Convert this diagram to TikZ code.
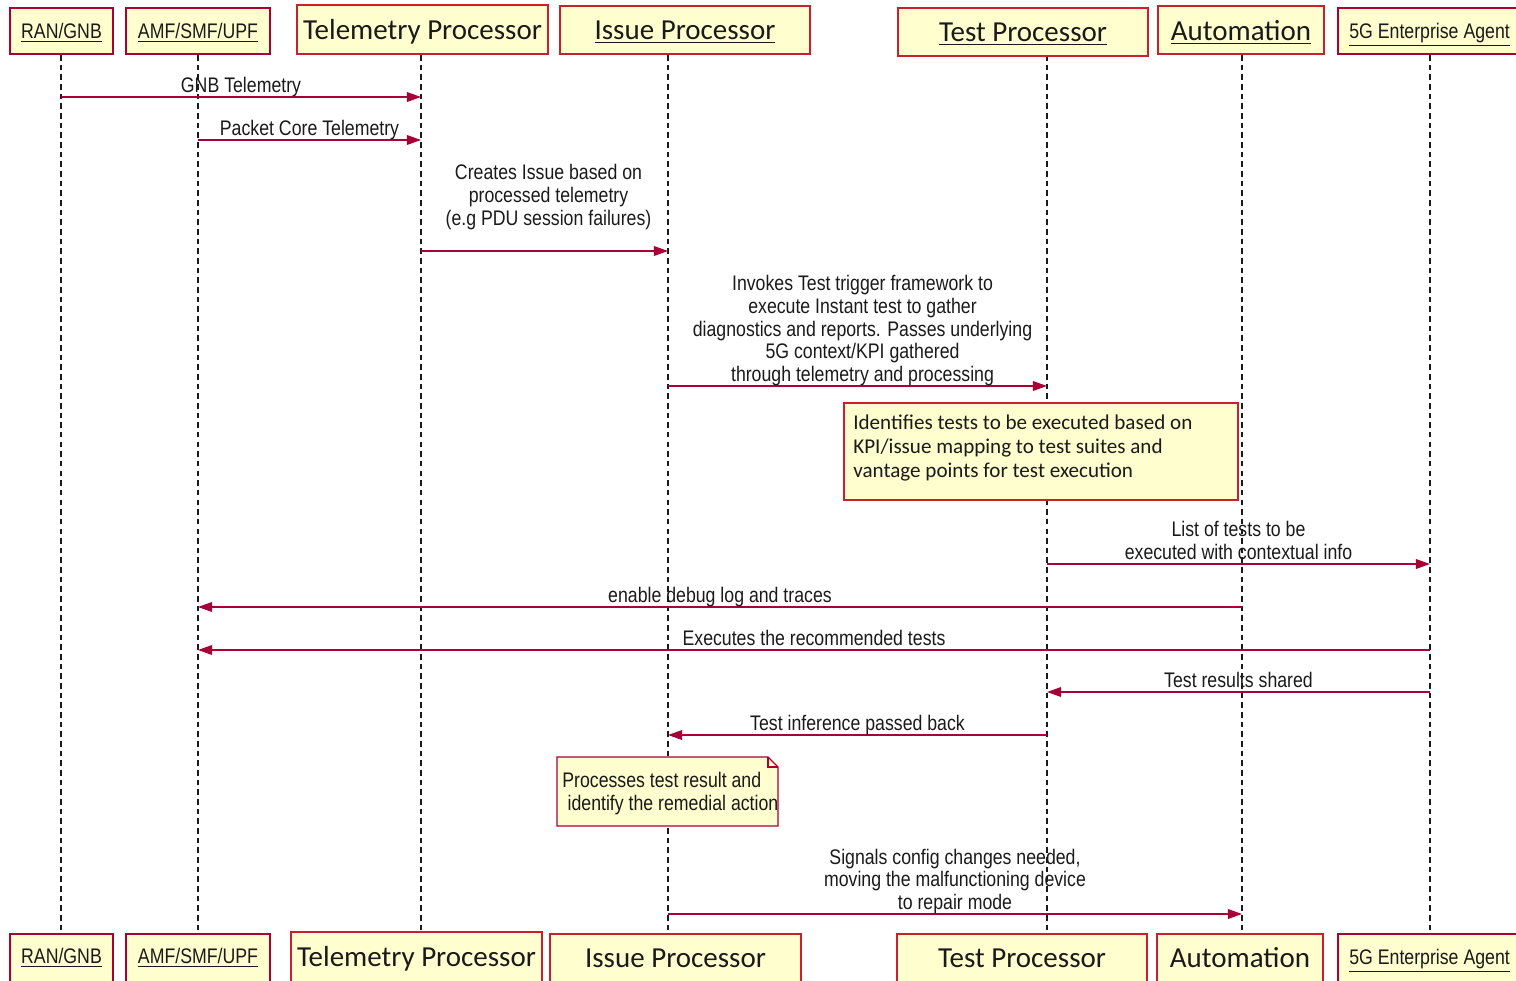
\documentclass[tikz,border=0pt]{standalone}
\usepackage{fontspec}
\usetikzlibrary{arrows.meta}

\newfontfamily\narrowsans{Liberation Sans}[FakeStretch=0.84]
\newfontfamily\calsans{Carlito}

\definecolor{umlred}{HTML}{A80036}
\definecolor{boxred}{HTML}{C8202F}
\definecolor{umlfill}{HTML}{FEFECE}
\definecolor{inkgray}{HTML}{1A1A1A}

\newcommand\lowered[1]{\raisebox{-1.2pt}[\height][\depth]{#1}}

\tikzset{
  box/.style 2 args={draw=umlred, fill=umlfill, line width=0.7pt, inner sep=0pt,
    minimum width=#1*0.02cm, minimum height=#2*0.02cm,
    font=\narrowsans\fontsize{12}{14}\selectfont, text=inkgray},
  bigbox/.style 2 args={box={#1}{#2}, draw=boxred, line width=1pt,
    font=\calsans\fontsize{16.5}{18}\selectfont},
  life/.style={draw=inkgray, line width=0.6pt, dash pattern=on 3.2pt off 2.3pt},
  msg/.style={draw=umlred, line width=0.8pt, -{Triangle[length=8pt,width=5.5pt]}},
  lbl/.style={font=\narrowsans\fontsize{12}{13}\selectfont, text=inkgray, align=center, inner sep=0pt, text depth=2.5pt},
  notetxt/.style={font=\calsans\fontsize{12}{13.4}\selectfont, text=inkgray, align=left, inner sep=0pt}
}

\begin{document}
\begin{tikzpicture}[x=0.02cm, y=-0.02cm]
    \useasboundingbox (0,0) rectangle (1516,981);
    \clip (0,0) rectangle (1516,981);

    % Lifelines
    \foreach \name/\x in {ran/61, amf/198, tel/421, iss/668, tst/1047, aut/1242, agt/1430} {
        \coordinate (\name) at (\x,55);
        \coordinate (\name-end) at (\x,933);
        \draw[life] (\name) -- (\name-end);
    }

    % Participants (top)
    \node[box={103}{46}] (ranT) at (61.5,31) {\lowered{\underline{RAN/GNB}}};
    \node[box={144}{46}] (amfT) at (198,31) {\lowered{\underline{AMF/SMF/UPF}}};
    \node[bigbox={251}{49}] (telT) at (422.5,29.5) {\lowered{Telemetry Processor}};
    \node[bigbox={250}{48}] (issT) at (685,30) {\lowered{\underline{Issue Processor}}};
    \node[bigbox={250}{48}] (tstT) at (1023,32) {\lowered{\underline{Test Processor}}};
    \node[bigbox={166}{48}] (autT) at (1241,30) {\lowered{\underline{Automation}}};
    \node[box={184}{46}] (agtT) at (1430,31) {};
    \node[lbl, anchor=west, text depth=0pt] (agtTtext) at (1349,31) {\underline{5G Enterprise Agent}};

    % Participants (bottom)
    \node[box={103}{48}] (ranB) at (61.5,958) {\underline{RAN/GNB}};
    \node[box={144}{48}] (amfB) at (198,958) {\underline{AMF/SMF/UPF}};
    \node[bigbox={251}{50}] (telB) at (416.5,957) {\lowered{Telemetry Processor}};
    \node[bigbox={251}{48}] (issB) at (675.5,958) {Issue Processor};
    \node[bigbox={250}{48}] (tstB) at (1022,958) {Test Processor};
    \node[bigbox={166}{48}] (autB) at (1240,958) {Automation};
    \node[box={184}{48}] (agtB) at (1430,958) {};
    \node[lbl, anchor=west, text depth=0pt] (agtBtext) at (1349,957) {\underline{5G Enterprise Agent}};

    % Telemetry
    \draw[msg] (ran |- 0,97) -- (tel |- 0,97) node[lbl, midway, above=-0.5pt] (gnbmsg) {GNB Telemetry};
    \draw[msg] (amf |- 0,140) -- (tel |- 0,140) node[lbl, midway, above=-0.5pt] (coremsg) {Packet Core Telemetry};
    \draw[msg] (tel |- 0,251) -- (iss |- 0,251) node[lbl, midway, above, yshift=0.41cm, xshift=0.08cm] (issuemsg)
        {Creates Issue based on\\ processed telemetry\\(e.g PDU session failures)};

    % Test trigger
    \draw[msg] (iss |- 0,386) -- (tst |- 0,386) node[lbl, midway, above=-0.5pt, xshift=0.1cm] (invokemsg)
        {Invokes Test trigger framework to\\ execute Instant test to gather\\diagnostics and reports. Passes underlying\\5G context/KPI gathered\\ through telemetry and processing};

    % Test selection note
    \node[draw=boxred, line width=1pt, fill=umlfill, minimum width=394*0.02cm, minimum height=97*0.02cm,
        anchor=north west, inner sep=0pt] (idnote) at (843,402) {};
    \node[notetxt, anchor=north west] (idtext) at (853,415)
        {Identifies tests to be executed based on\\KPI/issue mapping to test suites and\\vantage points for test execution};

    % Test execution
    \draw[msg] (tst |- 0,564) -- (agt |- 0,564) node[lbl, midway, above=-0.5pt] (listmsg)
        {List of tests to be\\executed with contextual info};
    \draw[msg] (aut |- 0,607) -- (amf |- 0,607) node[lbl, midway, above=-0.5pt] (debugmsg) {enable debug log and traces};
    \draw[msg] (agt |- 0,650) -- (amf |- 0,650) node[lbl, midway, above=-0.5pt] (execmsg) {Executes the recommended tests};
    \draw[msg] (agt |- 0,692) -- (tst |- 0,692) node[lbl, midway, above=-0.5pt] (resultmsg) {Test results shared};
    \draw[msg] (tst |- 0,735) -- (iss |- 0,735) node[lbl, midway, above=-0.5pt] (infermsg) {Test inference passed back};

    % Remedial note
    \draw[draw=umlred, line width=0.7pt, fill=umlfill] (557,757) -- (768,757) -- (778,767) -- (778,826) -- (557,826) -- cycle;
    \draw[draw=umlred, line width=0.7pt] (768,757) -- (768,767) -- (778,767);
    \node[lbl, align=left, anchor=north west, text depth=0pt] (remtext) at (562,772)
        {Processes test result and\\\hspace{3pt}identify the remedial action};

    % Repair mode
    \draw[msg] (iss |- 0,914) -- (aut |- 0,914) node[lbl, midway, above=-0.5pt] (repairmsg)
        {Signals config changes needed,\\moving the malfunctioning device\\to repair mode};
\end{tikzpicture}
\end{document}
